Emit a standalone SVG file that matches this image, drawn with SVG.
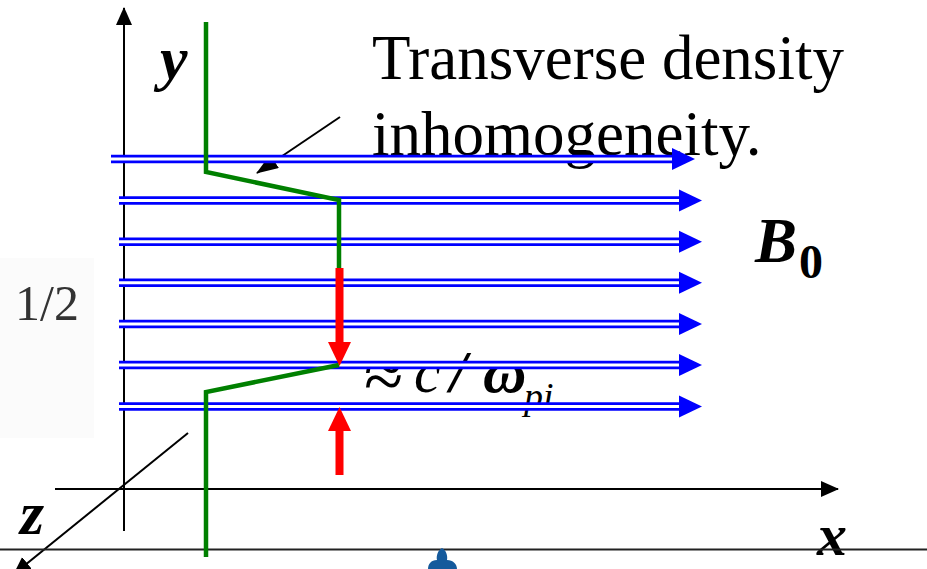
<svg xmlns="http://www.w3.org/2000/svg" width="927" height="569" viewBox="0 0 927 569">
  <style>
    .serif { font-family: "Liberation Serif", "Times New Roman", serif; }
    .bi { font-weight: bold; font-style: italic; }
    .axis { stroke: #000; stroke-width: 2; fill: none; }
    .bout { stroke: #0000ff; stroke-width: 8.5; fill: none; }
    .bin { stroke: #ffffff; stroke-width: 3; fill: none; }
    .bhead { fill: #0000ff; }
    .green { stroke: #008000; stroke-width: 4.5; fill: none; stroke-linejoin: miter; }
    .red { fill: #ff0000; }
  </style>
  <defs>
    <marker id="ahBig" markerWidth="18" markerHeight="18" refX="17" refY="9" orient="auto" markerUnits="userSpaceOnUse" viewBox="0 0 18 18">
      <path d="M0,1 L18,9 L0,17 z" fill="#000"/>
    </marker>
    <marker id="ahPtr" markerWidth="22" markerHeight="16" refX="21" refY="8" orient="auto" markerUnits="userSpaceOnUse" viewBox="0 0 22 16">
      <path d="M0,0 L22,8 L0,16 z" fill="#000"/>
    </marker>
  </defs>
  <rect x="0" y="0" width="927" height="569" fill="#ffffff"/>
  <rect x="0" y="258" width="94" height="180" fill="#fbfbfb"/>

  <g id="label-fraction">
    <text class="serif" x="15" y="320" font-size="50" fill="#333">1/2</text>
  </g>
  <g id="label-title">
    <text class="serif" x="372" y="79" font-size="63" fill="#000">Transverse density</text>
    <text class="serif" x="372" y="155" font-size="63" fill="#000">inhomogeneity.</text>
  </g>
  <g id="label-y"><text class="serif bi" x="160" y="79" font-size="62">y</text></g>
  <g id="label-x"><text class="serif bi" x="817" y="555" font-size="60">x</text></g>
  <g id="label-z"><text class="serif bi" x="20" y="534" font-size="62">z</text></g>
  <g id="label-B0">
    <text class="serif bi" x="755" y="262" font-size="63">B</text>
    <text class="serif" font-weight="bold" x="799" y="278" font-size="48">0</text>
  </g>
  <g id="label-scale">
    <text class="serif" x="364" y="398" font-size="72">≈</text>
    <text class="serif" font-style="italic" x="414" y="392" font-size="60">c</text>
    <text class="serif bi" x="450" y="392" font-size="60">/</text>
    <text class="serif bi" x="483" y="392" font-size="60">ω</text>
    <text class="serif" font-style="italic" x="524" y="409" font-size="38">pi</text>
  </g>

  <g id="connectors">
    <!-- axes -->
    <line class="axis" x1="124" y1="531" x2="124" y2="8" marker-end="url(#ahBig)"/>
    <line class="axis" x1="55" y1="489" x2="838" y2="489" marker-end="url(#ahBig)"/>
    <line class="axis" x1="188" y1="433" x2="14" y2="574" marker-end="url(#ahBig)"/>
    <line x1="0" y1="549.5" x2="927" y2="549.5" stroke="#222" stroke-width="1.8"/>
    <!-- pointer to title -->
    <line class="axis" stroke-width="1.6" x1="340" y1="117" x2="257" y2="173" marker-end="url(#ahPtr)"/>

    <!-- B field lines -->
    <g id="field-lines">
      <line class="bout" x1="111" y1="159" x2="673" y2="159"/><line class="bin" x1="111" y1="159" x2="673" y2="159"/>
      <polygon class="bhead" points="672,148 695,159 672,170"/>
      <line class="bout" x1="119" y1="200.5" x2="680" y2="200.5"/><line class="bin" x1="119" y1="200.5" x2="680" y2="200.5"/>
      <polygon class="bhead" points="679,189.5 702,200.5 679,211.5"/>
      <line class="bout" x1="119" y1="241.7" x2="680" y2="241.7"/><line class="bin" x1="119" y1="241.7" x2="680" y2="241.7"/>
      <polygon class="bhead" points="679,230.7 702,241.7 679,252.7"/>
      <line class="bout" x1="119" y1="282.8" x2="680" y2="282.8"/><line class="bin" x1="119" y1="282.8" x2="680" y2="282.8"/>
      <polygon class="bhead" points="679,271.8 702,282.8 679,293.8"/>
      <line class="bout" x1="119" y1="324" x2="680" y2="324"/><line class="bin" x1="119" y1="324" x2="680" y2="324"/>
      <polygon class="bhead" points="679,313 702,324 679,335"/>
      <line class="bout" x1="119" y1="365" x2="680" y2="365"/><line class="bin" x1="119" y1="365" x2="680" y2="365"/>
      <polygon class="bhead" points="679,354 702,365 679,376"/>
      <line class="bout" x1="119" y1="406.5" x2="680" y2="406.5"/><line class="bin" x1="119" y1="406.5" x2="680" y2="406.5"/>
      <polygon class="bhead" points="679,395.5 702,406.5 679,417.5"/>
    </g>

    <!-- density profile -->
    <polyline class="green" points="206,22 206,172 339,200 339,270"/>
    <polyline class="green" points="339,365 206,392 206,557"/>

    <!-- red scale arrows -->
    <rect class="red" x="335.5" y="268" width="8" height="76"/>
    <polygon class="red" points="328,342 351,342 339.5,366"/>
    <polygon class="red" points="339.5,407 351,431 328,431"/>
    <rect class="red" x="335.5" y="430" width="8" height="45"/>
  </g>

  <g id="marker-blob">
    <path d="M442,548 C438,550 436,556 437,560 C431,560 428,564 428,569 L457,569 C457,564 453,560 447,560 C448,556 446,550 442,548 Z" fill="#155a9c"/>
  </g>
</svg>
